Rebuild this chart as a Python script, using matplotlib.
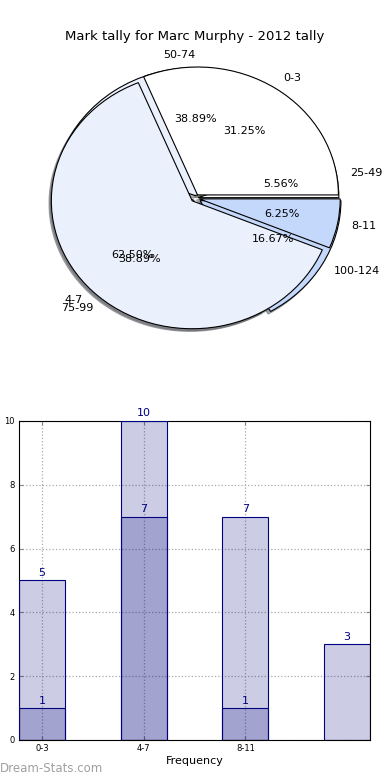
import matplotlib
matplotlib.use("Agg")
import matplotlib.pyplot as plt

title = "Mark tally for Marc Murphy - 2012 tally"

# pie 1 : frequency ranges
freq_labels = ["0-3", "4-7", "8-11"]
freq_counts = [5, 10, 1]
freq_colors = ["#ffffff", "#eaf1fd", "#c4d8fc"]

# pie 2 : mark ranges
mark_labels = ["25-49", "50-74", "75-99", "100-124"]
mark_counts = [1, 7, 7, 3]
mark_colors = ["#ffffff", "#eaf1fd", "#eaf1fd", "#c4d8fc"]

# bars
bar_ticks = ["0-3", "4-7", "8-11"]
bar_a = [5, 10, 1]
bar_b = [1, 7, 7, 3]

fig = plt.figure(figsize=(3.9, 7.8), dpi=100)
fig.suptitle(title, y=0.962, fontsize=9.5)

ax1 = fig.add_axes([0.049, 0.541, 0.903, 0.41])
wedge_kw = dict(edgecolor="black", linewidth=0.8)
shadow_kw = dict(ox=-0.012, oy=-0.015, shade=0.6)
ax1.pie(mark_counts, labels=mark_labels, colors=mark_colors, autopct="%.2f%%",
        explode=[0.02, 0.02, 0.02, 0.04], shadow=shadow_kw, wedgeprops=wedge_kw,
        textprops=dict(fontsize=8))
ax1.pie(freq_counts, labels=freq_labels, colors=freq_colors, autopct="%.2f%%",
        explode=[0.03, 0.03, 0.03], shadow=shadow_kw, wedgeprops=wedge_kw,
        textprops=dict(fontsize=8))
ax1.set_aspect("auto")
ax1.set_xlim(-1.25, 1.25)
ax1.set_ylim(-1.25, 1.25)
ax1.axis("off")

ax2 = fig.add_axes([0.0487, 0.0513, 0.9, 0.409])
w = 0.45
xa = list(range(len(bar_a)))
xb = list(range(len(bar_b)))
ax2.bar(xa, bar_a, width=w, color="navy", alpha=0.2, zorder=2)
ax2.bar(xb, bar_b, width=w, color="navy", alpha=0.2, zorder=2)
ax2.bar(xa, bar_a, width=w, fill=False, edgecolor="navy", linewidth=0.8, zorder=3)
ax2.bar(xb, bar_b, width=w, fill=False, edgecolor="navy", linewidth=0.8, zorder=3)
for x, v in zip(xa, bar_a):
    ax2.text(x, v + 0.08, str(v), ha="center", va="bottom", color="navy", fontsize=8)
for x, v in zip(xb, bar_b):
    ax2.text(x, v + 0.08, str(v), ha="center", va="bottom", color="navy", fontsize=8)

ax2.set_xlim(-w / 2, len(bar_b) - 1 + w / 2)
ax2.set_ylim(0, 10)
ax2.set_yticks([0, 2, 4, 6, 8, 10])
ax2.set_xticks(range(len(bar_ticks)))
ax2.set_xticklabels(bar_ticks)
ax2.tick_params(labelsize=6, direction="in", top=True, right=True, length=3,
                color="#888888", pad=3)
ax2.grid(True, color="#aaaaaa", linestyle=":", linewidth=0.9, zorder=0)
ax2.set_axisbelow(True)
ax2.set_xlabel("Frequency", fontsize=8, labelpad=2)
ax2.set_ylabel("Distribution", fontsize=7, labelpad=10)

fig.text(0.0, 0.006, "Dream-Stats.com", color="#a0a0a0", fontsize=8.5,
         ha="left", va="bottom")

fig.savefig("out.png", dpi=100)
